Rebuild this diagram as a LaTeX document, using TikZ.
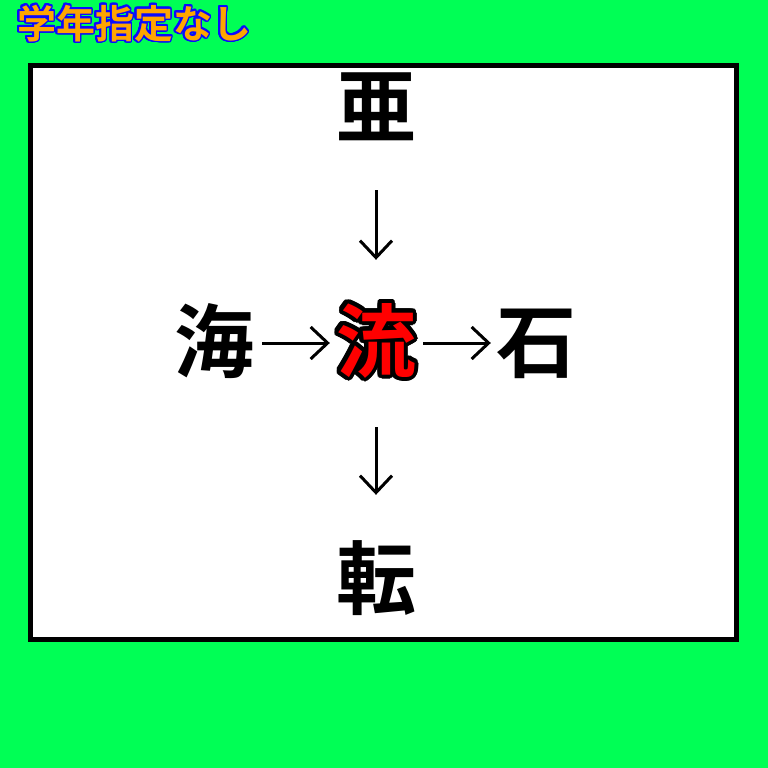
\documentclass[tikz,border=0pt]{standalone}
\usepackage{fontspec}
\usepackage{contour}
\usetikzlibrary{arrows.meta}
\newfontfamily\jpfont{Noto Sans CJK JP}[BoldFont=* Bold]
\definecolor{bggreen}{RGB}{0,255,85}
\definecolor{titleorange}{RGB}{255,165,0}
\definecolor{titleblue}{RGB}{10,10,255}
\contournumber{32}
\tikzset{
  kanji/.style={inner sep=0pt, minimum width=80pt, minimum height=80pt,
    font=\jpfont\bfseries\fontsize{80pt}{80pt}\selectfont, text height=68pt, text depth=12pt},
  link/.style={line width=3pt, -{Straight Barb[length=17pt,width=32pt,line width=3pt]}}
}
\begin{document}
\begin{tikzpicture}[x=1pt,y=-1pt]
\useasboundingbox (0,0) rectangle (768,768);
\fill[bggreen] (0,0) rectangle (768,768);
\draw[line width=5pt, fill=white] (30.5,66) rectangle (736.5,639.5);

% title
\contourlength{1.6pt}
\node[font=\jpfont\bfseries\fontsize{39pt}{39pt}\selectfont, text=titleorange] (title) at (134,24)
  {\contour{titleblue}{学年指定なし}};

% characters
\node[kanji] (a) at (376,108) {亜};
\node[kanji] (umi) at (214,343) {海};
\contourlength{4pt}
\node[kanji, text=red] (ryu) at (376,343) {\contour{black}{流}};
\node[kanji] (ishi) at (536,343) {石};
\node[kanji] (ten) at (376,580) {転};

% arrows
\draw[link, shorten <=42pt, shorten >=43pt] (a) -- (ryu);
\draw[link, shorten <=8pt, shorten >=6pt] (umi) -- (ryu);
\draw[link, shorten <=7pt, shorten >=5pt] (ryu) -- (ishi);
\draw[link, shorten <=44pt, shorten >=45pt] (ryu) -- (ten);

\end{tikzpicture}
\end{document}
